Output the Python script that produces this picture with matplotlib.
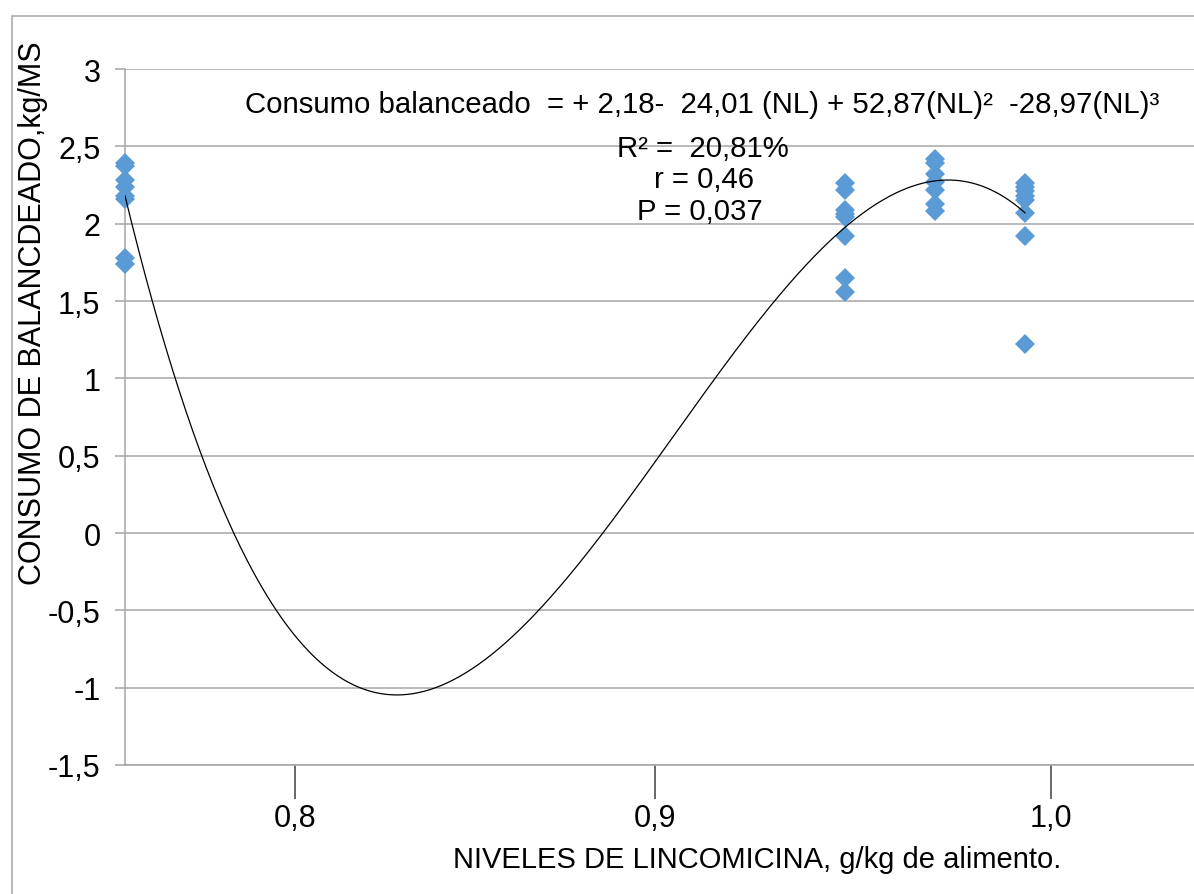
import numpy as np
import matplotlib
matplotlib.use("Agg")
import matplotlib.pyplot as plt
from matplotlib.patches import Rectangle

# ---------------- data ----------------
niveles = [0.0, 0.8, 0.9, 1.0]          # coded lincomycin level of each group (NL)
consumo_g1 = [2.39, 2.37, 2.28, 2.24, 2.18, 2.16, 1.78, 1.74]
consumo_g2 = [2.26, 2.22, 2.09, 2.06, 2.04, 1.92, 1.65, 1.56]
consumo_g3 = [2.42, 2.39, 2.32, 2.27, 2.22, 2.13, 2.08]
consumo_g4 = [2.26, 2.24, 2.21, 2.18, 2.15, 2.07, 1.92, 1.22]
coeficientes = [2.18, -24.01, 52.87, -28.97]   # b0 + b1*NL + b2*NL^2 + b3*NL^3
y_ticks = [-1.5, -1.0, -0.5, 0.0, 0.5, 1.0, 1.5, 2.0, 2.5, 3.0]
y_tick_labels = ["-1,5", "-1", "-0,5", "0", "0,5", "1", "1,5", "2", "2,5", "3"]
x_tick_labels = ["0,8", "0,9", "1,0"]
ecuacion = "Consumo balanceado  = + 2,18-  24,01 (NL) + 52,87(NL)\u00b2  -28,97(NL)\u00b3"
r2_txt = "R\u00b2 =  20,81%"
r_txt = "r = 0,46"
p_txt = "P = 0,037"
x_label = "NIVELES DE LINCOMICINA, g/kg de alimento."
y_label = "CONSUMO DE BALANCDEADO,kg/MS"

# ---------------- layout ----------------
W, H = 1194, 895
plt.rcParams['font.family'] = ['Liberation Sans', 'DejaVu Sans']
fig = plt.figure(figsize=(W / 100, H / 100), dpi=100)
fig.patch.set_facecolor('white')

def fx(x):
    return x / W

def fy(y):
    return 1 - y / H

ax_left, ax_top, ax_bottom = 125, 70, 766
ax_width = 1080
ax = fig.add_axes([fx(ax_left), fy(ax_bottom), ax_width / W, (ax_bottom - ax_top) / H])
ax.set_xlim(0, 1.2)
ax.set_ylim(-1.5, 3.0)

grey = '#A6A6A6'
# chart frame
fig.patches.append(Rectangle((fx(12), -0.1), 2.0, fy(17) + 0.1, transform=fig.transFigure,
                             fill=False, edgecolor=grey, linewidth=1.1, zorder=0))

for s in ['top', 'right']:
    ax.spines[s].set_visible(False)
for s in ['left', 'bottom']:
    ax.spines[s].set_color(grey)
    ax.spines[s].set_linewidth(1.1)

ax.set_yticks(y_ticks)
ax.set_yticklabels(y_tick_labels)
ax.yaxis.grid(True, color=grey, linewidth=1.1)
ax.set_axisbelow(True)
ax.tick_params(axis='y', direction='out', length=7.2, width=1.1, color=grey,
               pad=10.5, labelsize=22, labelcolor='black')

# manual x-tick marks (as in the original figure)
x_tick_pos = [(295 - ax_left) / 900, (655 - ax_left) / 900, (1051 - ax_left) / 900]
ax.set_xticks(x_tick_pos)
ax.set_xticklabels(x_tick_labels)
ax.tick_params(axis='x', direction='out', length=24.5, width=1.1, color='#404040',
               pad=3, labelsize=22, labelcolor='black')

# scatter points
grupos = [consumo_g1, consumo_g2, consumo_g3, consumo_g4]
for nl, vals in zip(niveles, grupos):
    ax.plot([nl] * len(vals), vals, linestyle='none', marker='D', markersize=10.5,
            color='#5B9BD5', markeredgewidth=0, zorder=3, clip_on=False)

# cubic trendline
xc = np.linspace(min(niveles), max(niveles), 400)
yc = np.polyval(coeficientes[::-1], xc)
ax.plot(xc, yc, color='black', linewidth=0.9, zorder=4)

# texts
fig.text(fx(702), fy(113), ecuacion, ha='center', va='baseline', fontsize=21.2)
fig.text(fx(703), fy(157), r2_txt, ha='center', va='baseline', fontsize=21.2)
fig.text(fx(704), fy(188), r_txt, ha='center', va='baseline', fontsize=21.2)
fig.text(fx(700), fy(220), p_txt, ha='center', va='baseline', fontsize=21.2)

fig.text(fx(757), fy(868), x_label, ha='center', va='baseline', fontsize=21)
fig.text(fx(33), fy(313), y_label, ha='center', va='center', rotation=90, fontsize=22)

fig.savefig('out.png', dpi=100)
